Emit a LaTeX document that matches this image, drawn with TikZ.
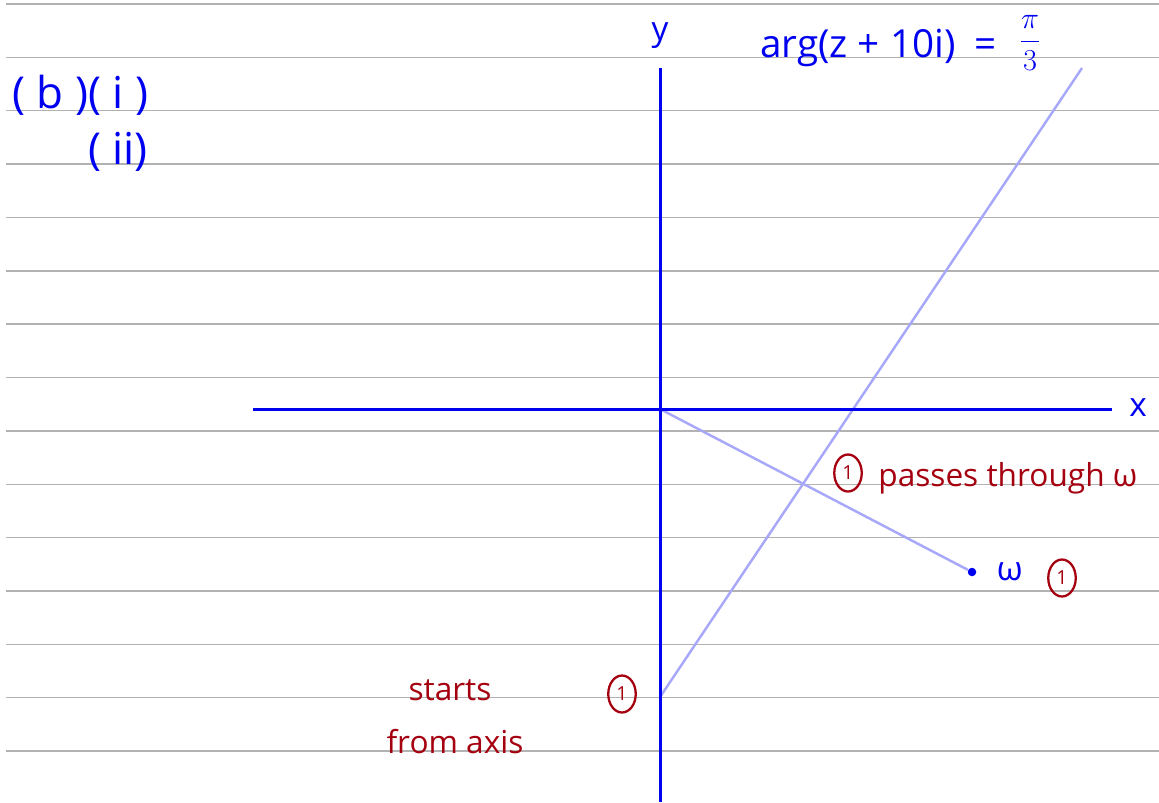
\documentclass[tikz,border=0pt]{standalone}
\usepackage{fontspec}
\setmainfont{Open Sans}
\usepackage{tikz}
\usetikzlibrary{positioning}
\usetikzlibrary{shapes.geometric}
\definecolor{ink}{RGB}{0,0,240}
\definecolor{pale}{RGB}{168,168,250}
\definecolor{redink}{RGB}{165,0,15}
\definecolor{rulegray}{RGB}{178,178,178}

\tikzset{
  paperline/.style={rulegray,line width=0.8pt},
  axisline/.style={ink,line width=1.7pt},
  locus/.style={pale,line width=1.4pt},
  bluetext/.style={ink,inner sep=0pt,font=\fontsize{19}{22}\selectfont},
  redtext/.style={redink,inner sep=0pt,font=\fontsize{18}{21}\selectfont},
  markcirc/.style={ellipse,draw=redink,text=redink,line width=1.3pt,inner sep=0pt,
    minimum width=0.55cm,minimum height=0.74cm,font=\fontsize{11}{11}\selectfont},
  wdot/.style={circle,fill=ink,inner sep=0pt,minimum size=0.17cm}
}

\begin{document}
\begin{tikzpicture}[x=0.02cm,y=-0.02cm]
\useasboundingbox (0,0) rectangle (1159,802);
\foreach \k in {0,...,14} \draw[paperline] (6,{4+53.36*\k}) -- (1159,{4+53.36*\k});

\coordinate (O) at (660,409);
\coordinate (xl) at (253,409);
\coordinate (xr) at (1112,409);
\coordinate (yt) at (660,68);
\coordinate (yb) at (660,802);
\coordinate (s) at (660,697);
\coordinate (e) at (1082,68);
\node[wdot] (w) at (972,572) {};

\draw[locus] (s) -- (e);
\draw[locus] (O) -- (w);
\draw[axisline] (xl) -- (xr);
\draw[axisline] (yt) -- (yb);

\node[bluetext] (xlab) at (1138,408) {x};
\node[bluetext] (ylab) at (660,36) {y};
\node[bluetext,anchor=west,font=\fontsize{22}{25}\selectfont] (arg) at (760,48) {arg(z + 10i)\enspace=};
\node[bluetext,font=\fontsize{18}{20}\selectfont] (frac) at (1030,43) {$\displaystyle\frac{\pi}{3}$};
\node[bluetext,anchor=west,font=\fontsize{25}{28}\selectfont] (bi) at (12,95) {( b )( i )};
\node[bluetext,anchor=west,font=\fontsize{25}{28}\selectfont] (bii) at (88,152) {( ii)};
\node[bluetext,right=0.4cm of w] (wlab) {ω};

\node[markcirc] (c1) at (848,473) {1};
\node[redtext,anchor=west] (pass) at (878,478) {passes through ω};
\node[markcirc] (c2) at (1062,578) {1};
\node[markcirc] (c3) at (622,694) {1};
\node[redtext] (st) at (450,690) {starts};
\node[redtext] (fa) at (455,742) {from axis};
\end{tikzpicture}
\end{document}
